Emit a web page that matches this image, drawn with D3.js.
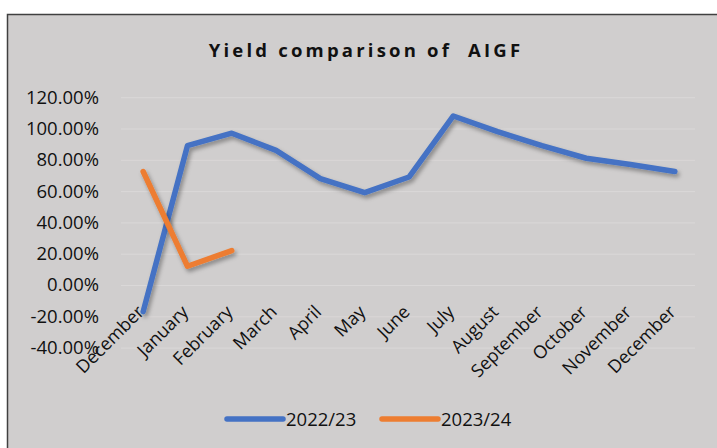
<!DOCTYPE html>
<html>
<head>
<meta charset="utf-8">
<script src="https://cdn.jsdelivr.net/npm/d3@7"></script>
<style>
  body { margin: 0; background: #fff; }
  svg { display: block; font-family: "Open Sans", sans-serif; }
</style>
</head>
<body>
<div id="vis"></div>
<script>

const FRAME_WIDTH = 717;
const FRAME_HEIGHT = 448;
const PLOT = {left: 121, right: 697, top: 97.2, bottom: 347.6};

// data (percent)
const months = ["December", "January", "February", "March", "April", "May", "June",
                "July", "August", "September", "October", "November", "December"];
const yield2223 = [-17, 89, 97, 86, 68, 59, 69, 108, 98, 89, 81, 77, 72.5];
const yield2324 = [72.5, 12, 22];
const seriesNames = ["2022/23", "2023/24"];
const yTicks = [-40, -20, 0, 20, 40, 60, 80, 100, 120];

const COLORS = ["#4472C4", "#ED7D31"];

const svg = d3.select("#vis")
  .append("svg")
    .attr("width", FRAME_WIDTH)
    .attr("height", FRAME_HEIGHT);

const defs = svg.append("defs");
const shadow = defs.append("filter")
    .attr("id", "shadow")
    .attr("x", "-20%").attr("y", "-20%")
    .attr("width", "140%").attr("height", "140%");
shadow.append("feDropShadow")
    .attr("dx", 2).attr("dy", 3)
    .attr("stdDeviation", 2)
    .attr("flood-color", "#000")
    .attr("flood-opacity", 0.35);

// chart area background + border
svg.append("rect")
    .attr("x", 7.5).attr("y", 14.5)
    .attr("width", FRAME_WIDTH + 10)
    .attr("height", FRAME_HEIGHT + 10)
    .attr("fill", "#D0CECE")
    .attr("stroke", "#404040")
    .attr("stroke-width", 1.5);

// title
svg.append("text")
    .attr("x", 366)
    .attr("y", 57)
    .attr("text-anchor", "middle")
    .attr("font-size", "18.5px")
    .attr("font-weight", "bold")
    .attr("letter-spacing", "3.2px")
    .attr("fill", "#111")
    .style("white-space", "pre")
    .text("Yield comparison of  AIGF");

const X_SCALE = d3.scaleBand()
    .domain(d3.range(months.length))
    .range([PLOT.left, PLOT.right]);

const Y_SCALE = d3.scaleLinear()
    .domain([-40, 120])
    .range([PLOT.bottom, PLOT.top]);

const xPos = (i) => X_SCALE(i) + X_SCALE.bandwidth() / 2;

// y axis with gridlines
const yAxis = svg.append("g")
    .attr("transform", "translate(" + PLOT.left + ",0)")
    .call(d3.axisLeft(Y_SCALE)
      .tickValues(yTicks)
      .tickSize(-(PLOT.right - PLOT.left - 2))
      .tickPadding(22)
      .tickFormat((d) => d.toFixed(2) + "%"));
yAxis.select(".domain").remove();
yAxis.selectAll(".tick line")
    .attr("stroke", "#DAD8D8")
    .attr("stroke-width", 1);
yAxis.selectAll(".tick text")
    .attr("font-size", "18.5px")
    .attr("font-family", "Open Sans, sans-serif")
    .attr("fill", "#111");

// category labels, rotated
svg.append("g")
  .selectAll("text")
  .data(months)
  .enter()
  .append("text")
    .attr("transform", (d, i) => "translate(" + (xPos(i) + 2) + ",313) rotate(-45)")
    .attr("text-anchor", "end")
    .attr("font-size", "18px")
    .attr("fill", "#111")
    .text((d) => d);

// lines
const line = d3.line()
    .x((d, i) => xPos(i))
    .y((d) => Y_SCALE(d));

[yield2223, yield2324].forEach((vals, k) => {
  svg.append("path")
      .datum(vals)
      .attr("d", line)
      .attr("fill", "none")
      .attr("stroke", COLORS[k])
      .attr("stroke-width", 5.5)
      .attr("stroke-linecap", "round")
      .attr("stroke-linejoin", "round")
      .attr("filter", "url(#shadow)");
});

// legend
const legendX = [227, 382];
const legend = svg.append("g");
seriesNames.forEach((name, k) => {
  legend.append("line")
      .attr("x1", legendX[k]).attr("x2", legendX[k] + 56)
      .attr("y1", 419).attr("y2", 419)
      .attr("stroke", COLORS[k])
      .attr("stroke-width", 5.5)
      .attr("stroke-linecap", "round");
  legend.append("text")
      .attr("x", legendX[k] + 59)
      .attr("y", 426)
      .attr("font-size", "18.5px")
      .attr("fill", "#111")
      .text(name);
});

</script>
</body>
</html>
